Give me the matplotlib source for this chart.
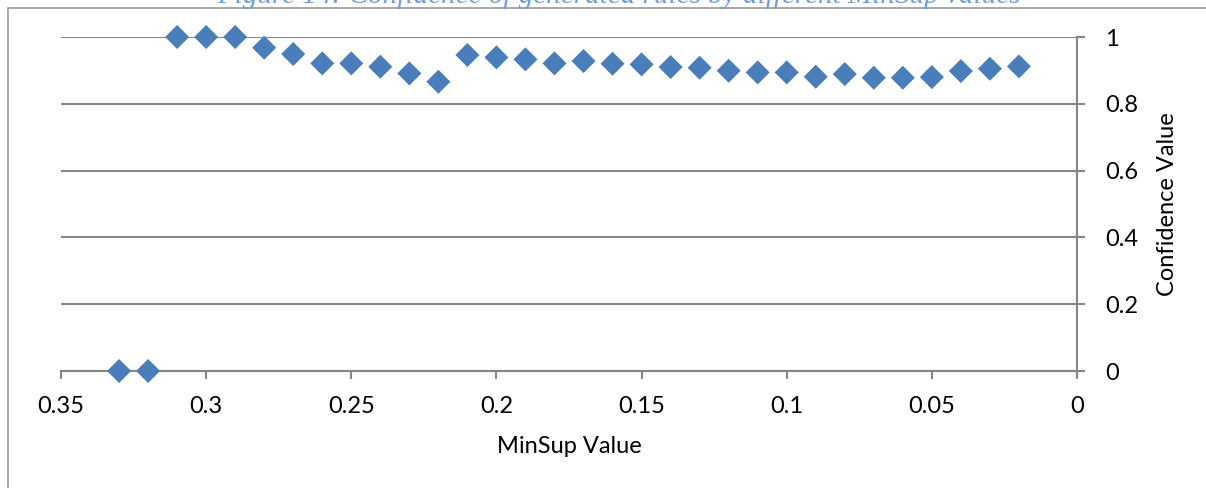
import matplotlib
matplotlib.use('Agg')
import matplotlib.pyplot as plt
from matplotlib.patches import Rectangle

plt.rcParams['font.family'] = ['Lato', 'DejaVu Sans']

# data
minsup = [0.33, 0.32, 0.31, 0.30, 0.29, 0.28, 0.27, 0.26, 0.25, 0.24,
          0.23, 0.22, 0.21, 0.20, 0.19, 0.18, 0.17, 0.16, 0.15, 0.14,
          0.13, 0.12, 0.11, 0.10, 0.09, 0.08, 0.07, 0.06, 0.05, 0.04,
          0.03, 0.02]
confidence = [0.0, 0.0, 1.0, 1.0, 1.0, 0.968, 0.949, 0.921, 0.921, 0.911,
              0.891, 0.866, 0.946, 0.939, 0.933, 0.921, 0.928, 0.920, 0.918, 0.910,
              0.908, 0.899, 0.894, 0.894, 0.881, 0.889, 0.878, 0.878, 0.880, 0.898,
              0.905, 0.912]
x_ticks = [0.35, 0.3, 0.25, 0.2, 0.15, 0.1, 0.05, 0]
x_labels = ['0.35', '0.3', '0.25', '0.2', '0.15', '0.1', '0.05', '0']
y_ticks = [0, 0.2, 0.4, 0.6, 0.8, 1]
y_labels = ['0', '0.2', '0.4', '0.6', '0.8', '1']

GRAY = '#868686'
W, H = 1206, 488

fig = plt.figure(figsize=(W / 100, H / 100), dpi=100)
ax = fig.add_axes([61 / W, 1 - 371 / H, (1077 - 61) / W, (371 - 37) / H])

# chart frame, cropped on right/bottom
fig.patches.append(Rectangle((8 / W, -0.1), 1.2, 1 - 8 / H + 0.1,
                             transform=fig.transFigure, fill=False,
                             edgecolor='#9a9a9a', linewidth=1.2))

# caption sits above the crop, only its lower part shows
fig.text(619 / W, 1 - 3 / H,
         'Figure 14: Confidence of generated rules by different MinSup values',
         ha='center', va='baseline', fontsize=21, style='italic',
         family='Liberation Serif', color='#6f9fd8')

ax.scatter(minsup, confidence, marker='D', s=150, color='#4a7ebb',
           edgecolors='none', zorder=3, clip_on=False)

ax.set_xlim(0.35, 0)
ax.set_ylim(0, 1)
ax.set_xticks(x_ticks)
ax.set_xticklabels(x_labels)
ax.set_yticks(y_ticks)
ax.set_yticklabels(y_labels)

ax.yaxis.tick_right()
ax.yaxis.set_label_position('right')
for side in ['top', 'left']:
    ax.spines[side].set_visible(False)
for side in ['bottom', 'right']:
    ax.spines[side].set_color(GRAY)
    ax.spines[side].set_linewidth(1.5)

ax.grid(axis='y', color=GRAY, linewidth=1.5)
ax.set_axisbelow(True)
ax.tick_params(axis='both', direction='out', length=6, width=1.5,
               color=GRAY, labelsize=17, labelcolor='black')
ax.tick_params(axis='x', pad=12)
ax.tick_params(axis='y', pad=14)

ax.set_xlabel('MinSup Value', fontsize=17, labelpad=14)
ax.set_ylabel('Confidence Value', fontsize=17, labelpad=14)

fig.savefig('out.png', dpi=100)
